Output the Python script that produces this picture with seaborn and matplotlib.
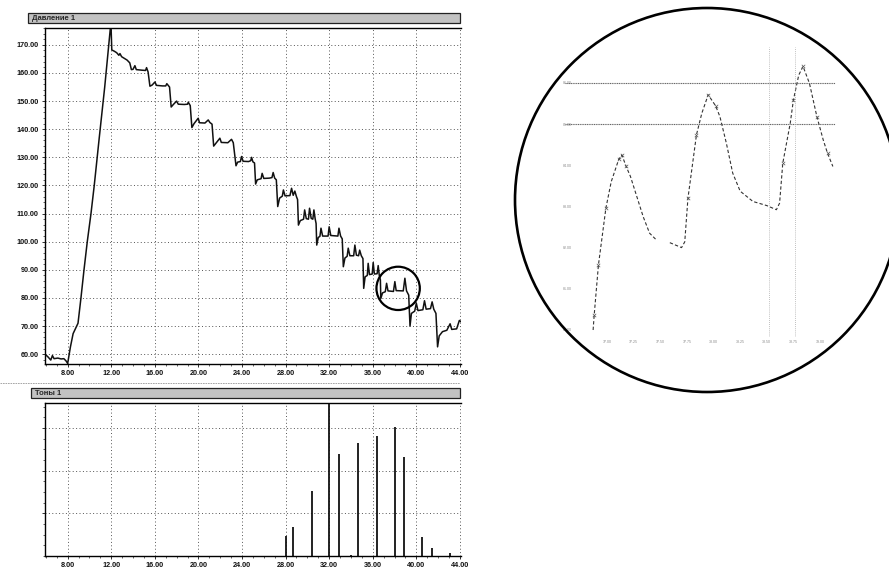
import numpy as np
import pandas as pd
import seaborn as sns
import matplotlib.pyplot as plt
from matplotlib.patches import Rectangle, Ellipse, Circle
from matplotlib.ticker import MultipleLocator, FormatStrFormatter

# Давление 1 : cuff pressure trace (time, pressure)
press_t = [5.92, 6.2, 6.45, 6.6, 6.75, 7.1, 7.4, 7.65, 7.85, 8.0,
           8.25, 8.5, 8.95, 9.22, 9.5, 9.8, 10.14, 10.44, 10.9, 11.4, 11.97,
           12.05, 12.3, 12.5, 12.7, 12.8, 12.95, 13.2, 13.45, 13.7,
           13.85, 14.0, 14.17, 14.3, 14.8, 15.15, 15.24, 15.38,
           15.55, 15.75, 16.01, 16.15, 16.7, 17.0, 17.1, 17.35,
           17.5, 17.7, 18.0, 18.15, 18.7, 19.0, 19.07, 19.25,
           19.4, 19.6, 19.98, 20.1, 20.6, 20.9, 21.05, 21.25,
           21.4, 21.6, 21.97, 22.1, 22.7, 23.04, 23.2,
           23.45, 23.6, 23.85, 23.96, 24.1, 24.6, 24.8, 24.88, 25.0, 25.15,
           25.25, 25.4, 25.75, 25.85, 26.0, 26.5, 26.75, 26.86, 27.0, 27.15,
           27.28, 27.45, 27.7, 27.8, 27.95, 28.4, 28.55, 28.7, 28.85, 29.0, 29.1,
           29.18, 29.35, 29.65, 29.75, 29.9, 30.1, 30.2, 30.35, 30.5, 30.6, 30.72, 30.8,
           30.86, 31.0, 31.15, 31.25, 31.4, 31.9, 32.0, 32.15, 32.8, 32.9, 33.05, 33.2,
           33.3, 33.45, 33.65, 33.75, 33.9, 34.25, 34.36, 34.5, 34.7, 34.8, 34.95, 35.1,
           35.17, 35.3, 35.5, 35.58, 35.7, 35.95, 36.04, 36.15, 36.4, 36.5, 36.6, 36.7,
           36.74, 36.9, 37.15, 37.27, 37.4, 37.9, 38.03, 38.15, 38.8, 38.95, 39.1, 39.3,
           39.42, 39.55, 39.85, 40.0, 40.15, 40.6, 40.75, 40.9, 41.3, 41.45, 41.6, 41.8,
           41.95, 42.1, 42.4, 42.8, 43.1, 43.25, 43.7, 43.95, 44.1]
press_p = [60.0, 59.0, 57.9, 59.5, 58.4, 58.6, 58.3, 58.4, 57.6, 56.7,
           62.5, 67.3, 71.0, 80.0, 90.0, 100.0, 110.0, 120.0, 137.0, 155.0, 178.0,
           168.2, 167.7, 167.2, 166.3, 166.9, 165.8, 165.2, 164.6, 163.6,
           161.2, 161.3, 162.6, 161.2, 161.0, 160.9, 161.9, 160.4,
           155.3, 155.7, 156.8, 155.6, 155.4, 155.4, 156.2, 155.0,
           147.9, 148.8, 150.0, 148.9, 148.8, 148.9, 149.6, 148.4,
           140.6, 142.0, 143.9, 142.3, 142.2, 143.3, 142.4, 141.8,
           134.0, 135.0, 136.8, 135.3, 135.2, 136.4, 135.2,
           127.0, 128.3, 128.5, 130.3, 128.6, 128.5, 128.8, 130.0, 128.4, 128.0,
           120.5, 122.0, 122.4, 124.3, 122.5, 122.6, 122.8, 124.6, 122.6, 122.0,
           112.5, 115.5, 116.2, 118.4, 116.3, 116.4, 119.0, 116.5, 118.0, 116.0, 115.0,
           105.9, 107.5, 108.0, 111.3, 108.2, 108.0, 111.9, 108.3, 108.0, 111.3, 108.0, 106.5,
           98.8, 101.5, 101.9, 104.8, 102.0, 102.0, 105.3, 102.2, 102.0, 104.8, 102.0, 101.0,
           91.1, 94.2, 94.8, 97.7, 95.0, 95.0, 98.8, 95.2, 95.0, 97.0, 95.0, 94.0,
           83.4, 87.5, 88.0, 92.3, 88.3, 88.5, 92.6, 88.5, 88.6, 91.5, 88.0, 86.5,
           79.8, 81.8, 82.2, 85.2, 82.5, 82.3, 85.8, 82.6, 82.5, 87.0, 82.5, 81.0,
           70.0, 74.5, 75.3, 78.1, 75.5, 75.8, 79.0, 76.0, 76.2, 78.6, 76.0, 74.5,
           62.6, 66.5, 68.0, 68.5, 70.8, 68.8, 69.0, 72.0, 71.5]

# Тоны 1 : tone amplitudes
tone_t = [28.0, 28.7, 30.4, 32.0, 32.9, 34.0, 34.65, 36.35, 38.0, 38.9, 40.5, 41.4, 43.1]
tone_amp = [0.47, 0.69, 1.52, 3.9, 2.39, 0.03, 2.65, 2.81, 3.03, 2.33, 0.44, 0.18, 0.08]

# magnified fragment (circle)
inset_t = [36.87, 36.88, 36.92, 36.99, 37.04, 37.11, 37.14, 37.18, 37.22, 37.28, 37.34, 37.40, 37.47,
           37.59, 37.70, 37.73, 37.76, 37.84, 37.89, 37.95, 38.02, 38.06, 38.12, 38.18, 38.25,
           38.37, 38.50, 38.59, 38.62, 38.65, 38.72, 38.75, 38.80, 38.84, 38.90, 38.97, 39.03,
           39.07, 39.12]
inset_p = [80.0, 80.36, 81.58, 82.96, 83.6, 84.14, 84.25, 83.97, 83.73, 83.24, 82.75, 82.35, 82.17,
           82.12, 82.0, 82.14, 83.2, 84.74, 85.26, 85.71, 85.44, 85.18, 84.54, 83.81, 83.37,
           83.12, 83.02, 82.92, 83.08, 84.05, 85.02, 85.59, 86.19, 86.4, 85.99, 85.18, 84.61,
           84.29, 83.97]
inset_seg = [0] * 13 + [1] * 26
inset_marked = [1, 2, 3, 5, 6, 7, 16, 17, 19, 20, 29, 31, 33, 35, 37]
inset_levels = [85.0, 86.0]
inset_cursors = [38.52, 38.76]

sns.set_style("white")
plt.rcParams['font.family'] = ['Liberation Sans', 'DejaVu Sans']

fig = plt.figure(figsize=(8.89, 5.71), dpi=100)
W, H = 889, 571


def px_axes(x0, y0, x1, y1):
    return fig.add_axes([x0 / W, 1 - y1 / H, (x1 - x0) / W, (y1 - y0) / H])


grid_kw = dict(color="#555555", lw=0.7, linestyle=(0, (1, 2.5)))

# top panel
ax1 = px_axes(45, 28, 461, 364)
df_p = pd.DataFrame({"t": press_t, "p": press_p})
sns.lineplot(data=df_p, x="t", y="p", ax=ax1, color="#111111", lw=1.1,
             estimator=None, sort=False)
ax1.set_xlim(5.92, 44.1)
ax1.set_ylim(56.5, 176.0)
ax1.xaxis.set_major_locator(MultipleLocator(4))
ax1.xaxis.set_minor_locator(MultipleLocator(1))
ax1.yaxis.set_major_locator(MultipleLocator(10))
ax1.yaxis.set_minor_locator(MultipleLocator(2))
ax1.xaxis.set_major_formatter(FormatStrFormatter("%.2f"))
ax1.yaxis.set_major_formatter(FormatStrFormatter("%.2f"))
ax1.set_xticks([t for t in range(8, 45, 4)])
ax1.grid(True, which="major", **grid_kw)
ax1.add_patch(Ellipse((38.33, 83.4), 3.98, 15.4, fill=False, lw=1.6,
                      color="black", zorder=5))

# bottom panel
ax2 = px_axes(45, 403, 461, 556)
ax2.vlines(tone_t, 0, tone_amp, color="#111111", lw=1.3)
ax2.set_xlim(5.92, 44.1)
ax2.set_ylim(0, 3.59)
ax2.set_xticks([t for t in range(8, 45, 4)])
ax2.xaxis.set_minor_locator(MultipleLocator(1))
ax2.xaxis.set_major_formatter(FormatStrFormatter("%.2f"))
ax2.set_yticks([1, 2, 3])
ax2.yaxis.set_minor_locator(MultipleLocator(0.25))
ax2.set_yticklabels([])
ax2.grid(True, which="major", **grid_kw)

for ax in (ax1, ax2):
    ax.set_xlabel("")
    ax.set_ylabel("")
    ax.spines["right"].set_visible(False)
    for s in ("left", "bottom", "top"):
        ax.spines[s].set_color("black")
        ax.spines[s].set_linewidth(1.0)
    ax.tick_params(which="major", direction="out", length=2.5, width=0.6,
                   labelsize=5.2, pad=2, colors="#111111", left=True, bottom=True)
    ax.tick_params(which="minor", direction="out", length=1.5, width=0.5,
                   left=True, bottom=True)
    for lab in ax.get_xticklabels() + ax.get_yticklabels():
        lab.set_fontweight("bold")

# inset (magnified oscillations)
ax3 = px_axes(575, 47, 835, 337)
df_in = pd.DataFrame({"t": inset_t, "p": inset_p, "seg": inset_seg})
sns.lineplot(data=df_in, x="t", y="p", units="seg", estimator=None, sort=False,
             ax=ax3, color="#333333", lw=0.8, linestyle=(0, (3, 2)))
ax3.scatter([inset_t[i] for i in inset_marked], [inset_p[i] for i in inset_marked],
            marker="x", s=6, lw=0.5, color="#555555", zorder=3)
for lv in inset_levels:
    ax3.axhline(lv, xmin=-0.04, xmax=1.0, color="#666666", lw=0.8,
                linestyle=(0, (1, 0.6)), clip_on=False)
for cx in inset_cursors:
    ax3.axvline(cx, color="#aaaaaa", lw=0.6, linestyle=(0, (1, 1.5)))
ax3.set_xlim(36.70, 39.14)
ax3.set_ylim(79.83, 86.87)
ax3.set_xticks([37 + 0.25 * i for i in range(9)])
ax3.set_yticks([80, 81, 82, 83, 84, 85, 86])
ax3.xaxis.set_major_formatter(FormatStrFormatter("%.2f"))
ax3.yaxis.set_major_formatter(FormatStrFormatter("%.2f"))
ax3.tick_params(labelsize=2.6, colors="#888888", length=0, pad=2)
ax3.set_xlabel("")
ax3.set_ylabel("")
for s in ax3.spines.values():
    s.set_visible(False)
ax3.patch.set_alpha(0)

# frame decorations: title bars, separator, magnifier circle
ov = fig.add_axes([0, 0, 1, 1], zorder=10)
ov.set_xlim(0, W)
ov.set_ylim(H, 0)
ov.axis("off")
ov.patch.set_alpha(0)
ov.add_patch(Rectangle((28, 13), 432, 10, facecolor="#c2c2c2", edgecolor="#222222", lw=0.9))
ov.text(32, 18.3, "Давление 1", fontsize=5.5, fontweight="bold", va="center", ha="left")
ov.add_patch(Rectangle((31, 388), 429, 10, facecolor="#c2c2c2", edgecolor="#222222", lw=0.9))
ov.text(35, 393.3, "Тоны 1", fontsize=5.5, fontweight="bold", va="center", ha="left")
ov.plot([0, 460], [383, 383], color="#999999", lw=0.6, linestyle=(0, (2, 1)))
ov.add_patch(Circle((707, 200), 192, fill=False, lw=1.9, color="black"))

fig.savefig("out.png", dpi=100)
